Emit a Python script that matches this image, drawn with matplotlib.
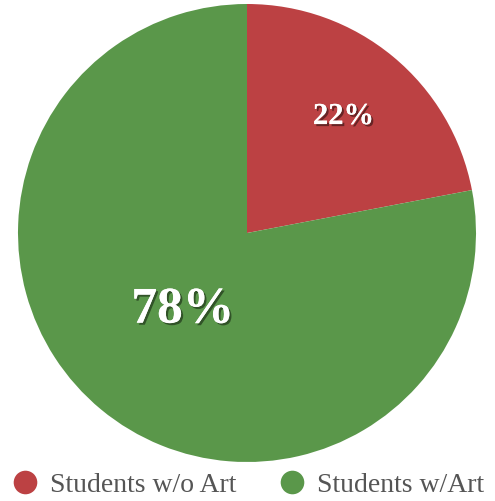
import numpy as np
import matplotlib.pyplot as plt
import matplotlib.patheffects as pe
from matplotlib.lines import Line2D

labels = ["Students w/o Art", "Students w/Art"]
values = [22, 78]
colors = ["#BC4143", "#5A974A"]
label_dist = [0.66, 0.44]
label_size = [22, 37]

fig = plt.figure(figsize=(4.95, 5.01), dpi=100)
ax = fig.add_axes([18 / 495, 39 / 501, 458 / 495, 458 / 501])

wedges, _ = ax.pie(values, colors=colors, startangle=90, counterclock=False,
                   wedgeprops=dict(linewidth=0))
ax.set_xlim(-1, 1)
ax.set_ylim(-1, 1)
ax.set_aspect("equal")

shadow = [pe.withSimplePatchShadow(offset=(1.5, -1.5), shadow_rgbFace="black", alpha=0.45),
          pe.Normal()]
for w, v, d, s in zip(wedges, values, label_dist, label_size):
    ang = np.deg2rad((w.theta1 + w.theta2) / 2)
    ax.text(d * np.cos(ang), d * np.sin(ang), f"{v}%", ha="center", va="center",
            fontsize=s, color="white", family="Liberation Serif", fontweight="bold",
            path_effects=shadow)

handles = [Line2D([], [], marker="o", linestyle="", markersize=17, color=c,
                  markeredgewidth=0) for c in colors]
leg = fig.legend(handles, labels, loc="center", bbox_to_anchor=(0.5, 16 / 501), ncol=2,
                 frameon=False, handlelength=1.0, handletextpad=0.4, columnspacing=1.5,
                 borderpad=0, borderaxespad=0,
                 prop=dict(family="Liberation Serif", size=20), labelcolor="#555555")

fig.savefig("out.png")
